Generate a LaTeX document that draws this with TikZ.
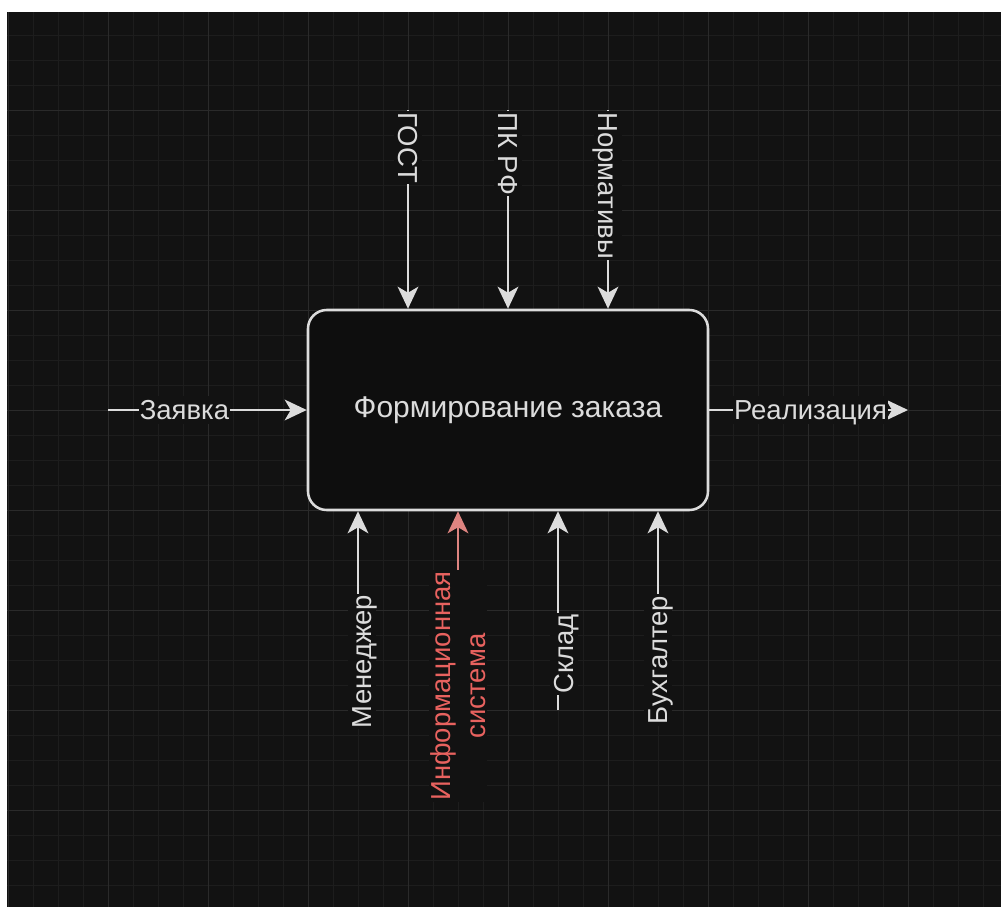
\documentclass[tikz,border=0pt]{standalone}
\usepackage{fontspec}
\setmainfont{Liberation Sans}
\usetikzlibrary{arrows.meta}

\definecolor{canvas}{HTML}{121212}
\definecolor{minorgrid}{HTML}{1D1D1D}
\definecolor{majorgrid}{HTML}{2A2A2A}
\definecolor{ink}{HTML}{DCDCDC}
\definecolor{boxfill}{HTML}{0E0E0E}
\definecolor{alert}{HTML}{E8625F}
\definecolor{alertline}{HTML}{DE8480}

\begin{document}
\begin{tikzpicture}[x=0.75pt,y=-0.75pt,
  every node/.style={font=\fontsize{20.6}{24}\selectfont},
  tip/.style={-{Stealth[length=16.5pt,width=15.5pt,inset=4.5pt]}},
  flow/.style={draw=ink,line width=1.9pt,tip},
  redflow/.style={draw=alertline,line width=1.9pt,tip},
  lab/.style={fill=canvas,text=ink,inner sep=1pt,text height=17pt,text depth=2.6pt},
  redlab/.style={fill=canvas,text=alert,inner sep=1pt,align=center,
    font=\fontsize{20.6}{26.5}\selectfont},
  process/.style={draw=ink,line width=1.9pt,fill=boxfill,rounded corners=14pt,
    minimum width=300pt,minimum height=150pt,text=ink,
    font=\fontsize{22.5}{27}\selectfont},
  minorline/.style={draw=minorgrid,line width=0.75pt},
  majorline/.style={draw=majorgrid,line width=0.75pt}]

% page and dark canvas
\useasboundingbox (0,0) rectangle (1001,907);
\fill[white] (0,0) rectangle (1001,907);
\fill[canvas] (7,12) rectangle (1001,907);

% grid
\foreach \x in {33,58,...,1000} \draw[minorline] (\x,12) -- (\x,907);
\foreach \y in {35,60,...,906} \draw[minorline] (7,\y) -- (1001,\y);
\foreach \x in {8,108,...,1000} \draw[majorline] (\x,12) -- (\x,907);
\foreach \y in {110,210,...,906} \draw[majorline] (7,\y) -- (1001,\y);

% activity box
\node[process] (proc) at (508,410) {Формирование заказа};

% free ends of the arrows
\coordinate (inA) at (108,410);
\coordinate (outA) at (908,410);
\coordinate (ctlA) at (408,110);
\coordinate (ctlB) at (508,110);
\coordinate (ctlC) at (608,110);
\coordinate (mechA) at (358,710);
\coordinate (mechB) at (458,710);
\coordinate (mechC) at (558,710);
\coordinate (mechD) at (658,710);

% arrows
\draw[flow] (inA) -- (proc.west);
\draw[flow] (proc.east) -- (outA);
\draw[flow] (ctlA) -- (ctlA |- proc.north);
\draw[flow] (ctlB) -- (ctlB |- proc.north);
\draw[flow] (ctlC) -- (ctlC |- proc.north);
\draw[flow] (mechA) -- (mechA |- proc.south);
\draw[redflow] (mechB) -- (mechB |- proc.south);
\draw[flow] (mechC) -- (mechC |- proc.south);
\draw[flow] (mechD) -- (mechD |- proc.south);

% labels
\node[lab] (lzayavka) at (184.5,410) {Заявка};
\node[lab] (lreal) at (810.5,410) {Реализация};
\node[lab,rotate=-90,anchor=west] (lgost) at (408,111) {ГОСТ};
\node[lab,rotate=-90,anchor=west] (lpk) at (508,111) {ПК РФ};
\node[lab,rotate=-90,anchor=west] (lnorm) at (608,111) {Нормативы};
\node[lab,rotate=90] (lmgr) at (362,661.5) {Менеджер};
\node[redlab,rotate=90] (linfo) at (458,686) {Информационная\\система};
\node[lab,rotate=90] (lstore) at (564,654) {Склад};
\node[lab,rotate=90] (lacc) at (658,660) {Бухгалтер};
\end{tikzpicture}
\end{document}
